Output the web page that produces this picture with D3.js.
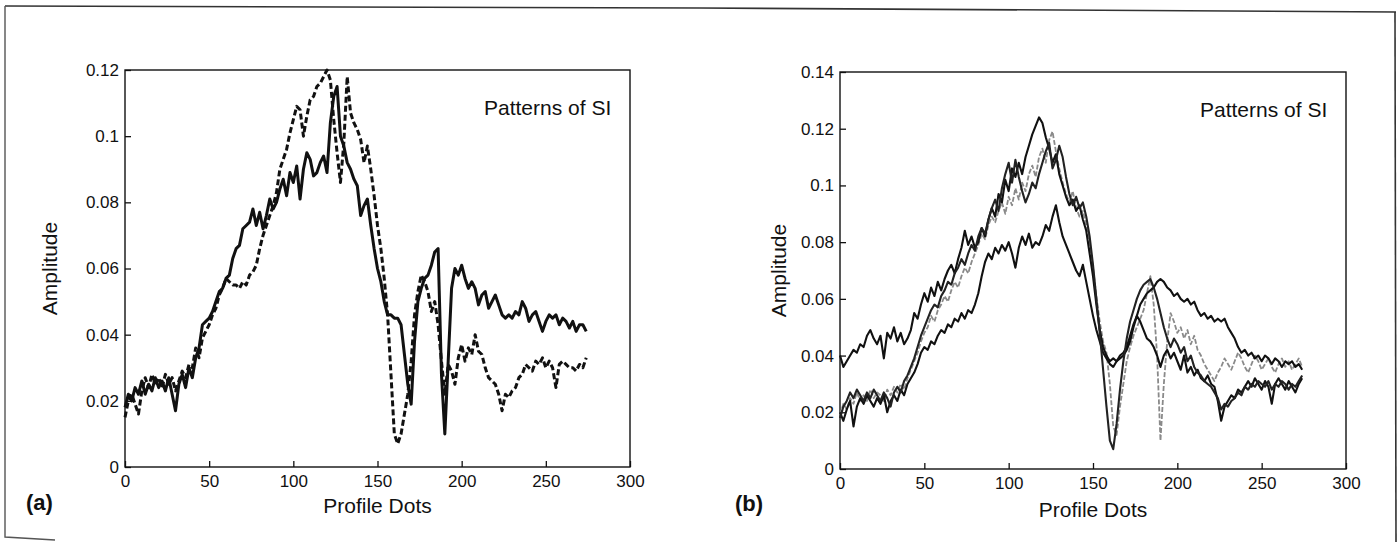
<!DOCTYPE html>
<html><head><meta charset="utf-8">
<script src="https://cdn.jsdelivr.net/npm/d3@7/dist/d3.min.js"></script>
<style>
body{margin:0;background:#fff}
svg{display:block}
text{font-family:"Liberation Sans",Arial,Helvetica,sans-serif;fill:#111}
</style>
</head><body>
<svg id="chart" width="1400" height="542"></svg>
<script>
// ---- data ----
const profileDots = d3.range(0, 276, 2);
const xTicks = [0, 50, 100, 150, 200, 250, 300];
const yTicksA = [0, 0.02, 0.04, 0.06, 0.08, 0.1, 0.12];
const yTicksB = [0, 0.02, 0.04, 0.06, 0.08, 0.1, 0.12, 0.14];
const panelLabels = ["(a)", "(b)"];
const titleText = "Patterns of SI";
const xLabel = "Profile Dots";
const yLabel = "Amplitude";

// panel (a): solid and dashed patterns
const siSolidA = [0.018,0.022,0.020,0.024,0.022,0.026,0.022,0.025,0.023,0.027,0.024,0.026,0.023,0.027,0.022,0.017,0.025,0.028,0.024,0.030,0.027,0.033,0.036,0.043,0.044,0.045,0.047,0.050,0.053,0.054,0.057,0.058,0.063,0.066,0.067,0.072,0.073,0.074,0.078,0.073,0.077,0.072,0.076,0.081,0.078,0.080,0.084,0.087,0.082,0.089,0.086,0.091,0.081,0.090,0.095,0.093,0.088,0.089,0.092,0.094,0.089,0.104,0.112,0.115,0.100,0.097,0.092,0.090,0.087,0.085,0.076,0.079,0.081,0.073,0.066,0.060,0.056,0.050,0.046,0.046,0.045,0.045,0.043,0.034,0.025,0.019,0.038,0.050,0.054,0.057,0.058,0.061,0.065,0.066,0.028,0.010,0.032,0.054,0.060,0.058,0.061,0.057,0.054,0.056,0.054,0.049,0.052,0.053,0.048,0.050,0.052,0.049,0.046,0.045,0.046,0.045,0.047,0.046,0.050,0.048,0.044,0.046,0.047,0.044,0.041,0.044,0.046,0.045,0.046,0.043,0.045,0.044,0.042,0.044,0.041,0.043,0.043,0.041];
const siDashedA = [0.015,0.020,0.022,0.019,0.016,0.023,0.027,0.024,0.028,0.025,0.027,0.024,0.028,0.025,0.027,0.023,0.026,0.029,0.027,0.031,0.030,0.036,0.033,0.039,0.041,0.043,0.046,0.048,0.052,0.054,0.057,0.056,0.055,0.055,0.054,0.056,0.055,0.058,0.059,0.061,0.066,0.070,0.073,0.076,0.079,0.083,0.090,0.093,0.096,0.101,0.105,0.109,0.108,0.100,0.106,0.111,0.112,0.115,0.116,0.118,0.120,0.117,0.105,0.095,0.086,0.098,0.118,0.107,0.104,0.102,0.099,0.092,0.097,0.090,0.082,0.073,0.066,0.057,0.046,0.028,0.010,0.007,0.010,0.016,0.022,0.032,0.046,0.053,0.058,0.056,0.053,0.047,0.050,0.043,0.032,0.022,0.031,0.029,0.025,0.033,0.037,0.032,0.036,0.034,0.040,0.035,0.034,0.030,0.027,0.026,0.025,0.022,0.017,0.022,0.021,0.023,0.024,0.027,0.028,0.031,0.030,0.029,0.032,0.031,0.033,0.030,0.032,0.030,0.024,0.031,0.032,0.031,0.030,0.030,0.029,0.031,0.030,0.033];

// panel (b): several patterns
const siB1 = [0.040,0.036,0.038,0.040,0.042,0.041,0.044,0.043,0.047,0.049,0.046,0.044,0.047,0.039,0.048,0.046,0.050,0.045,0.048,0.044,0.046,0.049,0.055,0.053,0.058,0.062,0.059,0.064,0.061,0.066,0.063,0.067,0.070,0.072,0.069,0.074,0.078,0.084,0.079,0.082,0.078,0.080,0.085,0.082,0.088,0.092,0.089,0.097,0.094,0.102,0.098,0.106,0.103,0.108,0.104,0.110,0.114,0.118,0.121,0.124,0.122,0.117,0.113,0.108,0.111,0.104,0.100,0.096,0.093,0.095,0.091,0.093,0.088,0.084,0.076,0.068,0.058,0.049,0.043,0.040,0.038,0.039,0.038,0.040,0.041,0.043,0.047,0.051,0.054,0.058,0.060,0.062,0.063,0.064,0.066,0.067,0.066,0.064,0.063,0.061,0.062,0.060,0.059,0.060,0.058,0.059,0.056,0.054,0.055,0.053,0.054,0.052,0.053,0.052,0.053,0.050,0.048,0.046,0.043,0.041,0.042,0.040,0.041,0.039,0.040,0.038,0.040,0.039,0.037,0.039,0.038,0.036,0.038,0.037,0.038,0.036,0.037,0.035];
const siB2 = [0.018,0.022,0.024,0.027,0.025,0.028,0.026,0.024,0.027,0.025,0.028,0.026,0.024,0.027,0.025,0.022,0.027,0.029,0.027,0.031,0.033,0.036,0.039,0.043,0.047,0.050,0.053,0.056,0.058,0.057,0.061,0.063,0.066,0.065,0.069,0.071,0.074,0.072,0.076,0.079,0.077,0.082,0.085,0.083,0.088,0.092,0.095,0.091,0.099,0.104,0.108,0.101,0.109,0.103,0.098,0.094,0.097,0.101,0.099,0.104,0.108,0.112,0.115,0.106,0.109,0.114,0.110,0.103,0.097,0.093,0.096,0.092,0.094,0.089,0.082,0.072,0.060,0.048,0.035,0.022,0.010,0.007,0.016,0.028,0.038,0.046,0.052,0.056,0.060,0.063,0.065,0.066,0.067,0.064,0.060,0.055,0.050,0.046,0.043,0.046,0.044,0.041,0.043,0.038,0.040,0.036,0.034,0.033,0.031,0.030,0.029,0.027,0.025,0.021,0.023,0.022,0.024,0.025,0.027,0.026,0.029,0.028,0.030,0.029,0.031,0.030,0.029,0.031,0.028,0.030,0.029,0.031,0.030,0.028,0.030,0.029,0.031,0.033];
const siB3 = [0.020,0.017,0.021,0.024,0.015,0.022,0.025,0.023,0.026,0.024,0.022,0.025,0.023,0.026,0.020,0.024,0.026,0.024,0.028,0.026,0.030,0.032,0.034,0.037,0.041,0.043,0.042,0.045,0.044,0.047,0.049,0.048,0.051,0.050,0.053,0.052,0.055,0.053,0.056,0.055,0.058,0.062,0.068,0.073,0.076,0.074,0.078,0.076,0.079,0.077,0.080,0.076,0.071,0.078,0.082,0.079,0.083,0.078,0.080,0.079,0.082,0.086,0.084,0.089,0.093,0.087,0.082,0.079,0.076,0.073,0.070,0.068,0.072,0.066,0.060,0.054,0.049,0.045,0.041,0.039,0.037,0.036,0.038,0.039,0.040,0.042,0.045,0.050,0.054,0.052,0.049,0.046,0.045,0.043,0.040,0.036,0.040,0.042,0.039,0.041,0.038,0.035,0.040,0.034,0.036,0.033,0.035,0.032,0.031,0.033,0.030,0.029,0.024,0.017,0.022,0.024,0.026,0.025,0.028,0.027,0.029,0.031,0.029,0.032,0.030,0.028,0.031,0.029,0.023,0.030,0.032,0.030,0.028,0.031,0.029,0.027,0.030,0.032];
const siB4 = [0.019,0.023,0.021,0.025,0.023,0.027,0.024,0.026,0.024,0.028,0.025,0.027,0.026,0.024,0.028,0.026,0.029,0.027,0.030,0.028,0.032,0.035,0.038,0.041,0.045,0.048,0.050,0.054,0.052,0.056,0.058,0.061,0.059,0.063,0.066,0.064,0.068,0.071,0.069,0.073,0.076,0.079,0.083,0.081,0.086,0.089,0.087,0.091,0.094,0.090,0.096,0.093,0.099,0.095,0.101,0.098,0.104,0.107,0.103,0.110,0.113,0.108,0.116,0.119,0.112,0.106,0.101,0.097,0.094,0.098,0.092,0.089,0.091,0.086,0.080,0.071,0.061,0.052,0.045,0.041,0.030,0.015,0.012,0.022,0.030,0.038,0.043,0.047,0.050,0.053,0.056,0.062,0.068,0.058,0.040,0.010,0.030,0.045,0.055,0.052,0.048,0.050,0.046,0.049,0.044,0.047,0.042,0.040,0.037,0.035,0.033,0.031,0.034,0.036,0.039,0.037,0.035,0.038,0.041,0.039,0.036,0.034,0.037,0.040,0.038,0.035,0.037,0.039,0.036,0.034,0.037,0.039,0.036,0.038,0.035,0.037,0.039,0.036];

// ---- drawing ----
const svg = d3.select("#chart");
const fmt = d => d === 0 ? "0" : String(+d.toFixed(2));

// outer scanned frame
svg.append("path")
  .attr("d", d3.line()([[5,6],[700,8],[1396,12]]))
  .attr("fill","none").attr("stroke","#333").attr("stroke-width",1.6);
svg.append("path")
  .attr("d", d3.line()([[5,6],[5,537],[55,540]]))
  .attr("fill","none").attr("stroke","#555").attr("stroke-width",1.4);
svg.append("path")
  .attr("d", d3.line()([[1395,12],[1396,542]]))
  .attr("fill","none").attr("stroke","#333").attr("stroke-width",1.6);

function panel(cfg) {
  const x = d3.scaleLinear().domain([0,300]).range([cfg.left, cfg.right]);
  const y = d3.scaleLinear().domain([0, cfg.ymax]).range([cfg.bottom, cfg.top]);
  const g = svg.append("g");

  const xa = g.append("g").attr("transform", `translate(0,${cfg.bottom})`)
    .call(d3.axisBottom(x).tickValues(xTicks).tickFormat(d3.format("d")).tickSize(-6).tickPadding(8));
  const ya = g.append("g").attr("transform", `translate(${cfg.left},0)`)
    .call(d3.axisLeft(y).tickValues(cfg.yTicks).tickFormat(fmt).tickSize(-6).tickPadding(6));
  [xa, ya].forEach(a => {
    a.select(".domain").remove();
    a.selectAll("line").attr("stroke","#111").attr("stroke-width",1.3);
    a.selectAll("text").style("font-size","17px").attr("fill","#111");
  });

  g.append("rect")
    .attr("x", cfg.left).attr("y", cfg.top)
    .attr("width", cfg.right - cfg.left).attr("height", cfg.bottom - cfg.top)
    .attr("fill","none").attr("stroke","#111").attr("stroke-width",1.4);

  const line = d3.line().x((d,i) => x(profileDots[i])).y(d => y(d));
  cfg.series.forEach(s => {
    g.append("path").datum(s.values)
      .attr("d", line)
      .attr("fill","none")
      .attr("stroke", s.color)
      .attr("stroke-width", s.width)
      .attr("stroke-dasharray", s.dash || null)
      .attr("stroke-linejoin","round");
  });

  g.append("text").attr("x", cfg.titleX).attr("y", cfg.titleY)
    .style("font-size","21px").text(titleText);
  g.append("text").attr("x", (cfg.left + cfg.right)/2).attr("y", cfg.xLabelY)
    .attr("text-anchor","middle").style("font-size","21px").text(xLabel);
  g.append("text")
    .attr("transform", `translate(${cfg.yLabelX},${(cfg.top+cfg.bottom)/2}) rotate(-90)`)
    .attr("text-anchor","middle").attr("dy","0.35em")
    .style("font-size","21px").text(yLabel);
  g.append("text").attr("x", cfg.tagX).attr("y", cfg.tagY)
    .style("font-size","22px").style("font-weight","bold").text(cfg.tag);
}

panel({
  left:125, right:630, top:70, bottom:467, ymax:0.12, yTicks:yTicksA,
  titleX:484, titleY:115, xLabelY:513, yLabelX:50, tagX:26, tagY:510, tag:panelLabels[0],
  series:[
    {values:siSolidA, color:"#111", width:3},
    {values:siDashedA, color:"#111", width:3, dash:"6,3"}
  ]
});

panel({
  left:840, right:1346, top:72, bottom:469, ymax:0.14, yTicks:yTicksB,
  titleX:1200, titleY:117, xLabelY:517, yLabelX:779, tagX:735, tagY:511, tag:panelLabels[1],
  series:[
    {values:siB4, color:"#8a8a8a", width:1.8, dash:"5,2"},
    {values:siB3, color:"#111", width:2.1},
    {values:siB1, color:"#111", width:2.1},
    {values:siB2, color:"#222", width:2.1}
  ]
});
</script>
</body></html>
